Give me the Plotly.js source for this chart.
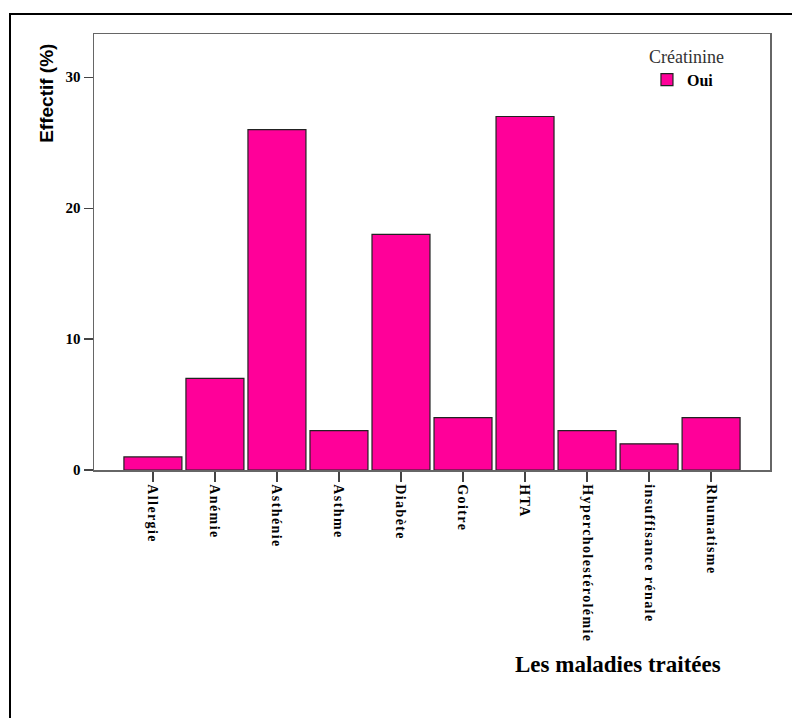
<!DOCTYPE html>
<html>
<head>
<meta charset="utf-8">
<script src="https://cdn.plot.ly/plotly-3.0.1.min.js"></script>
<style>
  html, body { margin: 0; padding: 0; background: #fff; }
  #wrap { position: relative; width: 792px; height: 718px; overflow: hidden; }
  #frame { position: absolute; left: 9px; top: 13px; width: 900px; height: 900px;
           border-left: 2px solid #000; border-top: 2px solid #000; pointer-events: none; }
  #chart { position: absolute; left: 0; top: 0; width: 792px; height: 718px; }
  .xtick text { letter-spacing: 1.4px; }
</style>
</head>
<body>
<div id="wrap">
  <div id="chart"></div>
  <div id="frame"></div>
</div>
<script>
const categories = ["Allergie", "Anémie", "Asthénie", "Asthme", "Diabète", "Goitre", "HTA",
                    "Hypercholestérolémie", "insuffisance rénale", "Rhumatisme"];
const effectif = [1, 7, 26, 3, 18, 4, 27, 3, 2, 4];
const seriesName = "Oui";
const legendTitle = "Créatinine";
const yTicks = [0, 10, 20, 30];
const yTitle = "Effectif (%)";
const xTitle = "Les maladies traitées";

const trace = {
  type: "bar",
  x: categories,
  y: effectif,
  name: seriesName,
  marker: { color: "#ff0099", line: { color: "#222", width: 1.2 } },
  width: 0.935,
  hoverinfo: "x+y"
};

const layout = {
  width: 792, height: 718,
  margin: { l: 94, r: 22, t: 34, b: 248 },
  paper_bgcolor: "rgba(0,0,0,0)",
  plot_bgcolor: "#fff",
  showlegend: true,
  legend: {
    x: 0.818, y: 0.988, xanchor: "left", yanchor: "top",
    bgcolor: "rgba(0,0,0,0)",
    title: { text: legendTitle, side: "top", font: { family: "Liberation Serif", size: 18, color: "#333", weight: "normal" } },
    font: { family: "Liberation Serif", size: 16, color: "#000", weight: "bold" },
    itemwidth: 30
  },
  xaxis: {
    type: "category",
    range: [-0.95, 9.95],
    tickangle: 90,
    ticks: "outside", ticklen: 10, tickwidth: 1.2, tickcolor: "#444",
    showline: true, linecolor: "#666", linewidth: 1.5, mirror: true,
    showgrid: false, zeroline: false,
    tickfont: { family: "Liberation Serif", size: 14, color: "#000", weight: "bold" },
    automargin: false
  },
  yaxis: {
    range: [0, 33.3],
    tickvals: yTicks,
    ticktext: yTicks.map(String),
    ticks: "outside", ticklen: 9, tickwidth: 1.2, tickcolor: "#444",
    showline: true, linecolor: "#666", linewidth: 1.5, mirror: true,
    showgrid: false, zeroline: false,
    tickfont: { family: "Liberation Serif", size: 15, color: "#000", weight: "bold" },
    automargin: false
  },
  annotations: [
    {
      text: yTitle, textangle: -90,
      xref: "paper", yref: "paper",
      x: -0.0695, y: 0.981, xanchor: "center", yanchor: "top",
      showarrow: false,
      font: { family: "Liberation Sans", size: 19, color: "#000", weight: "bold" }
    },
    {
      text: xTitle,
      xref: "paper", yref: "paper",
      x: 0.7745, y: -0.445, xanchor: "center", yanchor: "middle",
      showarrow: false,
      font: { family: "Liberation Serif", size: 23, color: "#000", weight: "bold" }
    }
  ]
};

Plotly.newPlot("chart", [trace], layout, { displayModeBar: false, staticPlot: true });
</script>
</body>
</html>
